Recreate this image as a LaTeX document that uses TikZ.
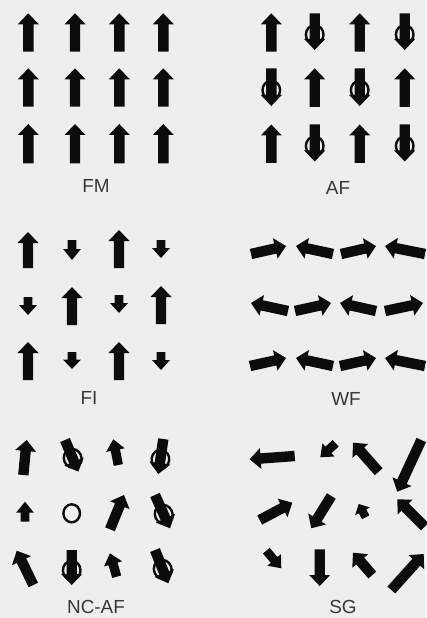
\documentclass[tikz,border=0pt]{standalone}
\usepackage{fontspec}
\setmainfont{Liberation Sans}
\definecolor{paper}{RGB}{238,238,238}
\definecolor{ink}{RGB}{12,12,12}
\definecolor{labelink}{RGB}{55,55,55}
\tikzset{
  spinbody/.style={fill=ink},
  ring/.style={draw=ink, line width=2.4bp},
  panellabel/.style={text=labelink, font=\fontsize{19}{19}\selectfont, inner sep=0pt}
}
\newcommand\spin[5][1]{%
  \pgfmathsetmacro\sang{atan2(-(#5-#3),#4-#2)}%
  \pgfmathsetmacro\slen{veclen(#4-#2,#5-#3)}%
  \pgfmathsetmacro\shl{min(11,0.55*\slen)}%
  \pgfmathsetmacro\sbase{\slen-\shl}%
  \pgfmathsetmacro\ssw{5.2*#1}%
  \pgfmathsetmacro\shw{10.5*#1}%
  \begin{scope}[shift={(#2,#3)},rotate=\sang]
    \fill[spinbody] (0,-\ssw) -- (\sbase,-\ssw) -- (\sbase,-\shw) -- (\slen,0)
      -- (\sbase,\shw) -- (\sbase,\ssw) -- (0,\ssw) -- cycle;
  \end{scope}}
\newcommand\spinc[4]{%
  \spin{#1}{#2}{#3}{#4}%
  \begin{scope}[shift={(#1,#2)},rotate=\sang]
    \draw[ring] (0.58*\slen,0) ellipse [x radius=9.5, y radius=8.8];
  \end{scope}}
\begin{document}
\begin{tikzpicture}[x=1bp,y=-1bp]
\useasboundingbox (0,0) rectangle (426,618);
\fill[paper] (0,0) rectangle (426,618);

% FM
\foreach \cx in {28.3,75,119.3,163.3}{
  \spin{\cx}{51.7}{\cx}{13.3}
  \spin{\cx}{106.7}{\cx}{68.3}
  \spin{\cx}{163.3}{\cx}{124}
}
\node[panellabel] (fm) at (96,186) {FM};

% AF
\spin{271.3}{51.7}{271.3}{13.3}
\spinc{314.7}{13.3}{314.7}{50}
\spin{359.7}{51.7}{359.7}{13.3}
\spinc{404.7}{13.3}{404.7}{50}
\spinc{271.3}{68.3}{271.3}{106}
\spin{314.7}{107}{314.7}{68.3}
\spinc{359.7}{68.3}{359.7}{106}
\spin{404.7}{107}{404.7}{68.3}
\spin{271.3}{163}{271.3}{124.5}
\spinc{314.7}{124.5}{314.7}{161.5}
\spin{359.7}{163}{359.7}{124.5}
\spinc{404.7}{124.5}{404.7}{161.5}
\node[panellabel] (af) at (338,188) {AF};

% FI
\spin{28}{268}{28}{232}
\spin[0.85]{72}{240}{72}{260}
\spin{119}{268}{119}{230}
\spin[0.85]{161}{240}{161}{258}
\spin[0.85]{28}{297}{28}{315}
\spin{72}{325}{72}{287}
\spin[0.85]{119}{295}{119}{313}
\spin{161}{324}{161}{286}
\spin{28}{380}{28}{342}
\spin[0.85]{72}{352}{72}{369}
\spin{119}{380}{119}{342}
\spin[0.85]{161}{352}{161}{370}
\node[panellabel] (fi) at (89,398) {FI};

% WF
\spin{251}{254}{286}{246}
\spin{333}{254}{296}{246}
\spin{341}{254}{376}{246}
\spin{425}{254}{385}{246}
\spin{288}{311}{251}{303}
\spin{295}{311}{331}{303}
\spin{376}{311}{340}{303}
\spin{385}{311}{423}{303}
\spin{250}{366}{286}{358}
\spin{333}{366}{296}{358}
\spin{340}{366}{376}{358}
\spin{425}{366}{385}{358}
\node[panellabel] (wf) at (346,399) {WF};

% NC-AF
\spin{23.3}{475}{26.7}{440}
\spinc{65}{440}{78.3}{471.7}
\spin[0.9]{118.3}{465}{113.3}{439.3}
\spinc{163.3}{439}{158.3}{474}
\spin[0.85]{25}{521.7}{25}{501.7}
\draw[ring] (71.7,513.3) ellipse [x radius=8.3, y radius=9];
\spin{110}{529.3}{124}{495}
\spinc{155}{495}{170}{528.3}
\spin{33.3}{585}{16.7}{550.7}
\spinc{71.7}{550}{71.7}{585}
\spin[0.9]{116.7}{576.7}{110}{553.3}
\spinc{155}{550}{168.3}{583.3}
\node[panellabel] (ncaf) at (96,607) {NC-AF};

% SG
\spin{294.7}{456}{249.7}{459.3}
\spin[0.85]{335.7}{443.3}{320.3}{457.3}
\spin{378.7}{471.7}{353}{442.7}
\spin{421.3}{440}{397.3}{491.7}
\spin{259.7}{520}{292.3}{502.7}
\spin{331.3}{496}{311.3}{528.3}
\spin[0.8]{365.7}{517.3}{358.7}{504}
\spin{424.7}{526.7}{397.3}{499.3}
\spin[0.85]{266.3}{550.7}{281.3}{568.3}
\spin{319.7}{549.3}{319.7}{586}
\spin{372.3}{575}{353}{552.7}
\spin{391.3}{590}{423.7}{554}
\node[panellabel] (sg) at (343,607) {SG};
\end{tikzpicture}
\end{document}
